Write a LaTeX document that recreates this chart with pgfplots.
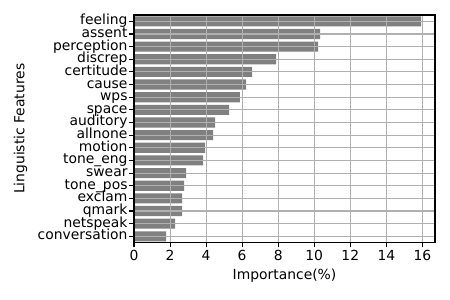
\documentclass[border=0pt]{standalone}
\usepackage{pgfplots}
\pgfplotsset{compat=1.18}
\usepackage{fontspec}
\setmainfont{DejaVu Sans}
\begin{document}
\begin{tikzpicture}
\begin{axis}[
    scale only axis,
    width=216.7pt, height=163.9pt,
    xbar, bar width=0.8,
    y dir=reverse,
    xmin=0, xmax=16.7,
    ymin=-0.5, ymax=17.5,
    xtick={0,2,...,16},
    ytick={0,...,17},
    yticklabels={feeling,assent,perception,discrep,certitude,cause,wps,space,auditory,allnone,motion,tone\_eng,swear,tone\_pos,exclam,qmark,netspeak,conversation},
    xtick pos=bottom, ytick pos=left,
    tick align=outside,
    major tick length=3.5pt,
    tick style={black, line width=0.8pt},
    axis line style={line width=0.8pt},
    grid=major,
    major grid style={color=black!31, line width=0.8pt},
    axis on top,
    font=\fontsize{10pt}{12pt}\selectfont,
    /pgf/number format/assume math mode=true,
    xlabel={Importance(\%)},
    ylabel={Linguistic Features},
    yticklabel style={inner xsep=1pt, inner ysep=0pt, text height=6.5pt, text depth=1.5pt},
    xticklabel style={inner sep=2pt},
    ylabel style={yshift=3pt},
]
\addplot[fill=gray, draw=none] coordinates {
(15.93,0) (10.32,1) (10.21,2) (7.88,3) (6.55,4) (6.22,5) (5.88,6) (5.27,7)
(4.50,8) (4.39,9) (3.94,10) (3.83,11) (2.89,12) (2.78,13) (2.67,14) (2.67,15)
(2.28,16) (1.78,17)};
\end{axis}
\path (-96.5pt,-41.3pt) rectangle (227.5pt,174.7pt);
\end{tikzpicture}
\end{document}
